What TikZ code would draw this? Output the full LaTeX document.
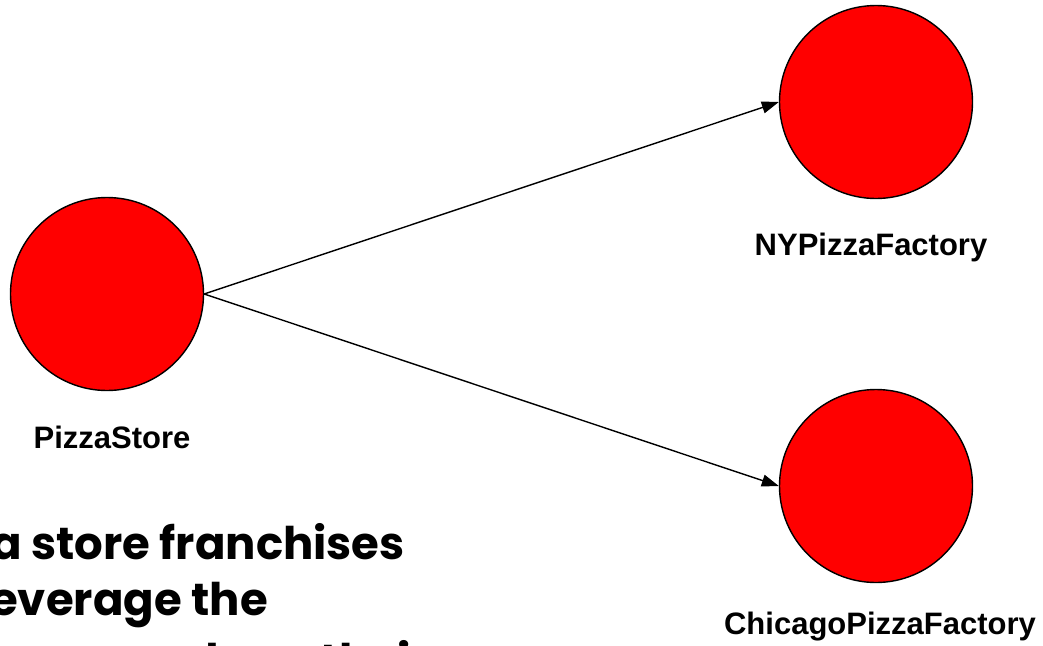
\documentclass[tikz,border=0pt]{standalone}
\usepackage{fontspec}
\setmainfont{Liberation Sans}
\newfontfamily\comicfont{Poppins}
\usetikzlibrary{arrows.meta}
\begin{document}
\begin{tikzpicture}[x=1pt,y=-1pt,
  ball/.style={circle, draw=black, line width=1.4pt, fill=red, minimum size=193pt, inner sep=0pt},
  lbl/.style={font=\fontsize{31}{31}\selectfont\bfseries, inner sep=0pt, anchor=base},
  link/.style={draw=black, line width=1.4pt, -{Triangle[length=17pt,width=12pt]}},
  note/.style={font=\comicfont\fontsize{45}{45}\selectfont\bfseries, inner sep=0pt, anchor=base east}]
\useasboundingbox (0,0) rectangle (1043,645);
\clip (0,0) rectangle (1043,645);
\fill[white] (0,0) rectangle (1043,645);
\node[ball] (store) at (107,294) {};
\node[ball] (ny) at (876,102) {};
\node[ball] (chi) at (876,486) {};
\node[lbl] (storelbl) at (112,448) {PizzaStore};
\node[lbl] (nylbl) at (871,255) {NYPizzaFactory};
\node[lbl] (chilbl) at (880,634) {ChicagoPizzaFactory};
\draw[link] (store.east) -- (ny.west);
\draw[link] (store.east) -- (chi.west);
\node[note] (line1) at (405,559) {a store franchises};
\node[note] (line2) at (268,615) {leverage the};
\node[note] (line3) at (430,676) {process and use their};
\end{tikzpicture}
\end{document}
